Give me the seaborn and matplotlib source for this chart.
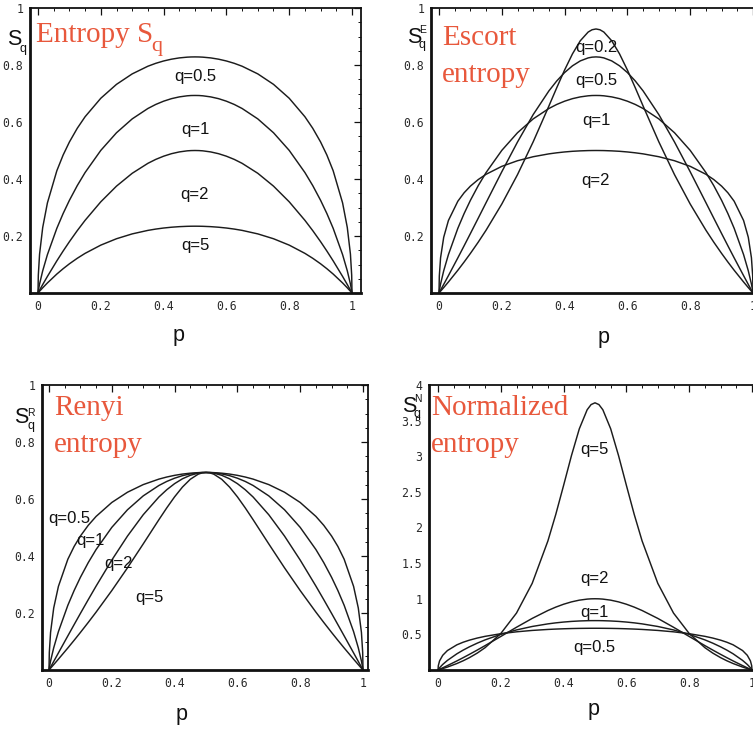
import matplotlib
matplotlib.use("Agg")
import matplotlib.pyplot as plt
import seaborn as sns
import pandas as pd
from matplotlib.ticker import MultipleLocator, FuncFormatter

# ---------------- data ----------------
p = [0, 0.001, 0.005, 0.015, 0.03, 0.06, 0.08, 0.1, 0.125, 0.15, 0.2, 0.25, 0.3, 0.35, 0.375, 0.4, 0.425, 0.45, 0.475, 0.4875, 0.5,
     0.5125, 0.525, 0.55, 0.575, 0.6, 0.625, 0.65, 0.7, 0.75, 0.8, 0.85, 0.875, 0.9, 0.92, 0.94, 0.97, 0.985, 0.995, 0.999, 1]

shannon = [0, .0079, .0315, .0779, .1347, .2270, .2788, .3251, .3768, .4227, .5004, .5623, .6109, .6474, .6616, .6730, .6819, .6881, .6919, .6929, .6931,
           .6929, .6919, .6881, .6819, .6730, .6616, .6474, .6109, .5623, .5004, .4227, .3768, .3251, .2788, .2270, .1347, .0779, .0315, .0079, 0]

tsallis_q05 = [0, .0622, .1364, .2299, .3162, .4290, .4840, .5298, .5779, .6185, .6833, .7321, .7688, .7957, .8059, .8141, .8204, .8249, .8275, .8282, .8284,
               .8282, .8275, .8249, .8204, .8141, .8059, .7957, .7688, .7321, .6833, .6185, .5779, .5298, .4840, .4290, .3162, .2299, .1364, .0622, 0]
tsallis_q2 = [0, .0020, .0100, .0296, .0582, .1128, .1472, .1800, .2188, .2550, .3200, .3750, .4200, .4550, .4688, .4800, .4888, .4950, .4988, .4997, .5000,
              .4997, .4988, .4950, .4888, .4800, .4688, .4550, .4200, .3750, .3200, .2550, .2188, .1800, .1472, .1128, .0582, .0296, .0100, .0020, 0]
tsallis_q5 = [0, .0012, .0062, .0182, .0353, .0665, .0852, .1024, .1218, .1391, .1680, .1904, .2074, .2197, .2243, .2280, .2308, .2328, .2340, .2343, .2344,
              .2343, .2340, .2328, .2308, .2280, .2243, .2197, .2074, .1904, .1680, .1391, .1218, .1024, .0852, .0665, .0353, .0182, .0062, .0012, 0]

escort_q02 = [0, .0013, .0063, .0190, .0387, .0798, .1087, .1389, .1785, .2205, .3122, .4153, .5306, .6561, .7203, .7824, .8389, .8851, .9156, .9237, .9264,
              .9237, .9156, .8851, .8389, .7824, .7203, .6561, .5306, .4153, .3122, .2205, .1785, .1389, .1087, .0798, .0387, .0190, .0063, .0013, 0]
escort_q05 = [0, .0020, .0100, .0302, .0609, .1233, .1657, .2086, .2627, .3171, .4254, .5298, .6261, .7091, .7440, .7735, .7971, .8144, .8249, .8275, .8284,
              .8275, .8249, .8144, .7971, .7735, .7440, .7091, .6261, .5298, .4254, .3171, .2627, .2086, .1657, .1233, .0609, .0302, .0100, .0020, 0]
escort_q2 = [0, .0595, .1236, .1956, .2544, .3220, .3517, .3750, .3981, .4166, .4444, .4641, .4782, .4882, .4919, .4949, .4972, .4987, .4997, .4999, .5000,
             .4999, .4997, .4987, .4972, .4949, .4919, .4882, .4782, .4641, .4444, .4166, .3981, .3750, .3517, .3220, .2544, .1956, .1236, .0595, 0]

renyi_q05 = [0, .0613, .1320, .2176, .2935, .3886, .4335, .4700, .5077, .5389, .5878, .6238, .6505, .6698, .6771, .6830, .6875, .6906, .6925, .6930, .6931,
             .6930, .6925, .6906, .6875, .6830, .6771, .6698, .6505, .6238, .5878, .5389, .5077, .4700, .4335, .3886, .2935, .2176, .1320, .0613, 0]
renyi_q2 = [0, .0020, .0100, .0300, .0600, .1197, .1592, .1985, .2469, .2944, .3857, .4700, .5447, .6070, .6325, .6539, .6709, .6832, .6907, .6925, .6931,
            .6925, .6907, .6832, .6709, .6539, .6325, .6070, .5447, .4700, .3857, .2944, .2469, .1985, .1592, .1197, .0600, .0300, .0100, .0020, 0]
renyi_q5 = [0, .0013, .0063, .0189, .0381, .0773, .1042, .1317, .1669, .2031, .2787, .3586, .4423, .5274, .5688, .6076, .6419, .6692, .6870, .6916, .6931,
            .6916, .6870, .6692, .6419, .6076, .5688, .5274, .4423, .3586, .2787, .2031, .1669, .1317, .1042, .0773, .0381, .0189, .0063, .0013, 0]

norm_q05 = [0, .0604, .1277, .2062, .2730, .3532, .3897, .4189, .4484, .4724, .5093, .5359, .5553, .5692, .5744, .5786, .5818, .5840, .5853, .5857, .5858,
            .5857, .5853, .5840, .5818, .5786, .5744, .5692, .5553, .5359, .5093, .4724, .4484, .4189, .3897, .3532, .2730, .2062, .1277, .0604, 0]
norm_q2 = [0, .0020, .0101, .0305, .0618, .1271, .1726, .2195, .2800, .3423, .4706, .6000, .7241, .8349, .8824, .9231, .9560, .9802, .9950, .9988, 1.0000,
           .9988, .9950, .9802, .9560, .9231, .8824, .8349, .7241, .6000, .4706, .3423, .2800, .2195, .1726, .1271, .0618, .0305, .0101, .0020, 0]
norm_q5 = [0, .0013, .0063, .0196, .0411, .0906, .1293, .1734, .2374, .3133, .5122, .7992, 1.2163, 1.8113, 2.1823, 2.5909, 3.0086, 3.3847, 3.6523, 3.7251, 3.7500,
           3.7251, 3.6523, 3.3847, 3.0086, 2.5909, 2.1823, 1.8113, 1.2163, .7992, .5122, .3133, .2374, .1734, .1293, .0906, .0411, .0196, .0063, .0013, 0]

titles = [["Entropy S"], ["Escort", "entropy"], ["Renyi", "entropy"], ["Normalized", "entropy"]]
ylabel_sup = ["", "E", "R", "N"]
q_labels_1 = ["q=0.5", "q=1", "q=2", "q=5"]
q_labels_2 = ["q=0.2", "q=0.5", "q=1", "q=2"]
q_labels_3 = ["q=0.5", "q=1", "q=2", "q=5"]
q_labels_4 = ["q=5", "q=2", "q=1", "q=0.5"]

# ---------------- style ----------------
sns.set_theme(style="white")
plt.rcParams["font.family"] = ["Liberation Sans", "DejaVu Sans"]

W, H = 753, 735
fig = plt.figure(figsize=(W / 100, H / 100), dpi=100)
fig.patch.set_facecolor("white")

LINE = "#1c1c1c"
RED = "#E8583C"


def fx(x):
    return x / W


def fy(y):
    return 1 - y / H


def make_axes(left, top, right, bottom):
    return fig.add_axes([fx(left), fy(bottom), (right - left) / W, (bottom - top) / H])


def style_axes(ax, xlim, ylim, ymajor, yminor):
    ax.set_xlim(*xlim)
    ax.set_ylim(*ylim)
    ax.set_facecolor("white")
    ax.xaxis.set_major_locator(MultipleLocator(0.2))
    ax.xaxis.set_minor_locator(MultipleLocator(0.05))
    ax.yaxis.set_major_locator(MultipleLocator(ymajor))
    ax.yaxis.set_minor_locator(MultipleLocator(yminor))
    ax.xaxis.set_major_formatter(FuncFormatter(lambda v, _: "%g" % round(v, 3)))
    ax.yaxis.set_major_formatter(FuncFormatter(lambda v, _: "" if abs(v) < 1e-9 else "%g" % round(v, 3)))
    ax.tick_params(which="both", direction="in", top=True, right=True, color="#111111")
    ax.tick_params(which="major", length=5, width=0.9, pad=5, labelsize=8.3, labelcolor="#2a2a2a")
    ax.tick_params(which="minor", length=2.5, width=0.7)
    for lab in ax.get_xticklabels() + ax.get_yticklabels():
        lab.set_fontfamily("DejaVu Sans Mono")
    ax.set_xlabel("")
    ax.set_ylabel("")
    for side in ["left", "bottom"]:
        ax.spines[side].set_linewidth(2.0)
        ax.spines[side].set_color("#111111")
    for side in ["top", "right"]:
        ax.spines[side].set_linewidth(1.3)
        ax.spines[side].set_color("#111111")


def draw(ax, series):
    for ys in series:
        df = pd.DataFrame({"p": p, "S": ys})
        sns.lineplot(data=df, x="p", y="S", ax=ax, color=LINE, linewidth=1.05,
                     estimator=None, sort=False, legend=False)


def qtext(ax, x, y, s):
    ax.text(x, y, s, ha="center", va="center", fontsize=12, color="#111111")


# panel axes (pixel frames)
ax1 = make_axes(30, 8, 361, 293)
ax2 = make_axes(431, 8, 762, 293)
ax3 = make_axes(42, 385, 368, 670)
ax4 = make_axes(429, 385, 761, 670)

draw(ax1, [tsallis_q05, shannon, tsallis_q2, tsallis_q5])
draw(ax2, [escort_q02, escort_q05, shannon, escort_q2])
draw(ax3, [renyi_q05, shannon, renyi_q2, renyi_q5])
draw(ax4, [norm_q5, norm_q2, shannon, norm_q05])

style_axes(ax1, (-8 / 314, 323 / 314), (0, 1.0), 0.2, 0.05)
style_axes(ax2, (-8 / 314, 323 / 314), (0, 1.0), 0.2, 0.05)
style_axes(ax3, (-7 / 314, 319 / 314), (0, 1.0), 0.2, 0.05)
style_axes(ax4, (-9 / 314, 323 / 314), (0, 4.0), 0.5, 0.1)

# curve labels
for (x, y), s in zip([(0.5, 0.758), (0.5, 0.572), (0.5, 0.344), (0.5, 0.168)], q_labels_1):
    qtext(ax1, x, y, s)
for (x, y), s in zip([(0.5, 0.86), (0.5, 0.747), (0.5, 0.607), (0.5, 0.396)], q_labels_2):
    qtext(ax2, x, y, s)
for (x, y), s in zip([(0.065, 0.533), (0.131, 0.456), (0.22, 0.375), (0.32, 0.256)], q_labels_3):
    qtext(ax3, x, y, s)
for (x, y), s in zip([(0.497, 3.09), (0.497, 1.29), (0.497, 0.81), (0.497, 0.31)], q_labels_4):
    qtext(ax4, x, y, s)

# red titles
TFONT = dict(color=RED, fontsize=21, family=["Liberation Serif", "DejaVu Serif"], va="baseline", ha="left")
fig.text(fx(36), fy(42), titles[0][0], **TFONT)
fig.text(fx(151), fy(51), "q", color=RED, fontsize=16, family=["Liberation Serif", "DejaVu Serif"],
         va="baseline", ha="left")
fig.text(fx(442), fy(45), titles[1][0], **TFONT)
fig.text(fx(442), fy(82), titles[1][1], **TFONT)
fig.text(fx(54), fy(415), titles[2][0], **TFONT)
fig.text(fx(54), fy(452), titles[2][1], **TFONT)
fig.text(fx(431), fy(415), titles[3][0], **TFONT)
fig.text(fx(431), fy(452), titles[3][1], **TFONT)

# y labels  S_q^X
SFONT = dict(color="#111111", va="baseline", ha="left")
for (sx, sy, supx, supy, subx, suby), sup in zip(
        [(7, 45, 20, 36, 20, 52), (407, 43, 419, 33, 419, 48),
         (14, 423, 27, 416, 27, 429), (402, 412, 414, 402, 414, 417)], ylabel_sup):
    fig.text(fx(sx), fy(sy), "S", fontsize=15.5, **SFONT)
    fig.text(fx(subx), fy(suby), "q", fontsize=9, **SFONT)
    if sup:
        fig.text(fx(supx), fy(supy), sup, fontsize=7.5, **SFONT)

# x labels
for (x, y) in [(179, 341), (604, 343), (182, 720), (594, 715)]:
    fig.text(fx(x), fy(y), "p", fontsize=15.5, color="#111111", ha="center", va="baseline")

fig.savefig("out.png", dpi=100, facecolor="white")
